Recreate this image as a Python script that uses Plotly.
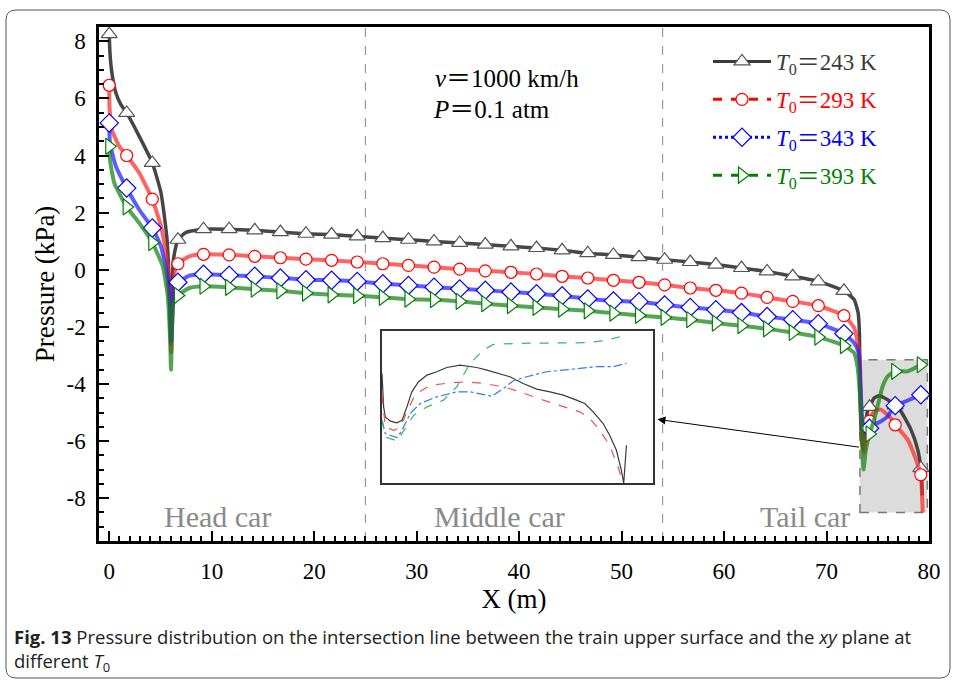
import numpy as np
import plotly.graph_objects as go

# ---------------- data ----------------
# marker positions along X (m)
MK_X = [0, 1.7, 4.2, 6.7, 9.2, 11.7, 14.2, 16.7, 19.2, 21.7, 24.2, 26.7, 29.2, 31.7,
        34.2, 36.7, 39.2, 41.7, 44.2, 46.7, 49.2, 51.7, 54.2, 56.7, 59.2, 61.7, 64.2,
        66.7, 69.2, 71.7, 74.2, 76.7, 79.2]

# T0 = 243 K
X_243 = [0, 0.07, 0.26, 0.65, 1.14, 1.7, 2.93, 4.2, 5.05, 5.61, 5.87, 6.0, 6.26, 6.7, 7.5,
         9.2, 11.7, 14.2, 16.7, 19.2, 21.7, 24.2, 26.7, 29.2, 31.7, 34.2, 36.7, 39.2, 41.7,
         44.2, 46.7, 49.2, 51.7, 54.2, 56.7, 59.2, 61.7, 64.2, 66.7, 69.2, 71.7, 72.7, 73.09,
         73.22, 73.28, 73.4, 73.55, 73.75, 74.0, 74.2, 74.65, 75.14, 75.96, 76.7, 77.26,
         78.24, 78.9, 79.2, 79.35]
P_243 = [8.25, 7.59, 6.89, 6.19, 5.78, 5.49, 4.67, 3.74, 2.69, 1.17, -0.58, -2.6, 0.35, 1.05,
         1.31, 1.42, 1.42, 1.38, 1.32, 1.26, 1.23, 1.17, 1.11, 1.05, 0.99, 0.94, 0.88, 0.82,
         0.76, 0.68, 0.58, 0.52, 0.44, 0.35, 0.27, 0.18, 0.06, -0.06, -0.23, -0.41, -0.74,
         -1.05, -1.52, -2.33, -4.55, -5.8, -6.3, -5.6, -4.95, -4.8, -4.49, -4.41, -4.55,
         -4.75, -4.96, -5.6, -6.3, -6.95, -7.9]

# T0 = 293 K
X_293 = [0, 0.02, 0.26, 0.98, 1.7, 2.93, 4.2, 5.05, 5.61, 5.93, 6.05, 6.36, 6.7, 7.82,
         9.2, 11.7, 14.2, 16.7, 19.2, 21.7, 24.2, 26.7, 29.2, 31.7, 34.2, 36.7, 39.2, 41.7,
         44.2, 46.7, 49.2, 51.7, 54.2, 56.7, 59.2, 61.7, 64.2, 66.7, 69.2, 71.7, 72.7, 73.09,
         73.25, 73.42, 73.67, 74.0, 74.2, 74.65, 75.3, 76.28, 76.7, 77.92, 78.73, 79.2, 79.38]
P_293 = [6.46, 5.72, 4.9, 4.32, 4.0, 3.39, 2.47, 1.52, 0.35, -0.82, -2.9, -0.12, 0.21, 0.47,
         0.54, 0.52, 0.47, 0.42, 0.37, 0.33, 0.27, 0.21, 0.15, 0.09, 0.02, -0.04, -0.09, -0.15,
         -0.23, -0.29, -0.37, -0.44, -0.53, -0.64, -0.72, -0.82, -0.97, -1.11, -1.26, -1.61,
         -2.04, -2.69, -3.15, -5.6, -6.42, -5.5, -5.3, -4.96, -4.9, -5.2, -5.43, -5.95, -6.65,
         -7.18, -8.5]

# T0 = 343 K
X_343 = [0, 0.07, 0.65, 1.7, 2.93, 4.2, 5.05, 5.61, 5.93, 6.06, 6.36, 6.7, 7.82,
         9.2, 11.7, 14.2, 16.7, 19.2, 21.7, 24.2, 26.7, 29.2, 31.7, 34.2, 36.7, 39.2, 41.7,
         44.2, 46.7, 49.2, 51.7, 54.2, 56.7, 59.2, 61.7, 64.2, 66.7, 69.2, 71.7, 72.7, 73.09,
         73.25, 73.51, 73.74, 74.2, 74.65, 75.3, 75.96, 76.28, 76.7, 77.92, 79.2]
P_343 = [5.14, 4.44, 3.62, 2.86, 2.1, 1.46, 0.82, -0.12, -1.28, -2.5, -0.47, -0.44, -0.21,
         -0.16, -0.19, -0.23, -0.29, -0.35, -0.37, -0.41, -0.49, -0.55, -0.61, -0.67, -0.72,
         -0.78, -0.84, -0.91, -1.02, -1.09, -1.12, -1.23, -1.32, -1.40, -1.50, -1.64, -1.75,
         -1.89, -2.24, -2.57, -2.86, -3.6, -5.37, -5.66, -5.55, -5.43, -5.31, -5.14, -4.96,
         -4.76, -4.58, -4.38]

# T0 = 393 K
X_393 = [0, 0.07, 0.49, 1.7, 2.93, 4.2, 5.22, 5.71, 5.93, 6.03, 6.26, 6.7, 7.82,
         9.2, 11.7, 14.2, 16.7, 19.2, 21.7, 24.2, 26.7, 29.2, 31.7, 34.2, 36.7, 39.2, 41.7,
         44.2, 46.7, 49.2, 51.7, 54.2, 56.7, 59.2, 61.7, 64.2, 66.7, 69.2, 71.7, 72.7, 73.02,
         73.18, 73.42, 73.61, 73.84, 74.2, 74.65, 75.14, 75.47, 75.96, 76.7, 77.92, 79.2]
P_393 = [4.32, 3.85, 3.04, 2.2, 1.63, 0.95, 0.12, -0.93, -2.33, -3.5, -1.17, -0.9, -0.64,
         -0.58, -0.62, -0.68, -0.74, -0.82, -0.88, -0.91, -0.97, -1.03, -1.05, -1.11, -1.19,
         -1.26, -1.32, -1.38, -1.44, -1.52, -1.60, -1.67, -1.75, -1.87, -1.96, -2.07, -2.20,
         -2.36, -2.66, -2.92, -3.39, -3.97, -5.37, -7.0, -6.3, -5.75, -5.25, -4.55, -4.09,
         -3.74, -3.56, -3.56, -3.33]

# inset (magnified tail region), inset-local units 0-100
INS_U_243 = [0, 0.6, 1.2, 3.1, 5.5, 7.4, 9.2, 11.0, 13.5, 16.6, 20.2, 23.9, 28.8, 32.5, 35.0,
             38.7, 43.6, 47.2, 52.1, 57.1, 62.0, 66.9, 71.8, 74.8, 77.9, 81.6, 84.0, 86.5,
             88.3, 89.2, 90.2]
INS_V_243 = [72, 50.1, 43.5, 40.7, 39.6, 41.3, 50.1, 60.0, 66.6, 71.0, 73.2, 76.0, 77.6, 76.5,
             76.0, 74.3, 71.6, 69.9, 65.5, 61.8, 60.0, 57.8, 54.5, 52.3, 46.8, 39.1, 31.4,
             21.5, 8.4, 0, 24.8]
INS_U_293 = [0, 1.2, 4.3, 6.7, 9.2, 12.3, 17.8, 25.2, 31.3, 37.4, 44.8, 50.9, 59.5, 66.9,
             73.0, 76.7, 80.4, 84.0, 87.1, 89.0]
INS_V_293 = [57.8, 36.9, 34.7, 36.5, 46.8, 58.5, 64.2, 65.9, 66.6, 65.5, 63.3, 60.0, 54.5,
             50.5, 46.8, 42.4, 34.7, 24.8, 10.5, 0]
INS_U_343 = [0, 1.2, 5.5, 7.4, 10.4, 14.1, 20.2, 27.6, 32.5, 38.7, 40.5, 44.8, 48.5, 53.4,
             60.7, 69.3, 79.1, 85.3, 90.2]
INS_V_343 = [41.3, 32.5, 29.9, 34.7, 45.7, 52.3, 56.7, 60.0, 60.0, 57.8, 57.1, 62.2, 67.3,
             69.9, 73.2, 74.7, 76.5, 76.5, 78.7]
INS_U_393 = [0, 1.2, 5.5, 8.0, 11.7, 16.6, 22.7, 27.6, 32.5, 37.4, 41.1, 50.9, 63.2, 75.5,
             81.6, 89.0, 90.2]
INS_V_393 = [41.3, 30.3, 27.7, 34.7, 44.6, 50.1, 54.5, 63.3, 78.7, 87.5, 91.2, 91.9, 92.3,
             92.3, 93.6, 96.7, 95.2]

LABELS = ["243", "293", "343", "393"]
CAR_LABELS = ["Head car", "Middle car", "Tail car"]
CAR_X = [10.6, 38.1, 67.9]
CAR_BOUNDS = [25, 54]
Y_TICKS = [-8, -6, -4, -2, 0, 2, 4, 6, 8]
X_TICKS = [0, 10, 20, 30, 40, 50, 60, 70, 80]

# ---------------- styling ----------------
SERIES = [
    (X_243, P_243, INS_U_243, INS_V_243, "#3a3a3a", "rgba(50,50,50,0.9)", "#555555",
     "triangle-up", "solid", "solid", "#3a3a3a", 14),
    (X_293, P_293, INS_U_293, INS_V_293, "red", "rgba(255,40,40,0.72)", "#ff0000",
     "circle", "dash", "dash", "#f05050", 12),
    (X_343, P_343, INS_U_343, INS_V_343, "blue", "rgba(30,30,255,0.72)", "#0000ff",
     "diamond", "dot", "dashdot", "#2f7fe0", 14),
    (X_393, P_393, INS_U_393, INS_V_393, "green", "rgba(20,130,20,0.72)", "#008000",
     "triangle-right", "dash", "dash", "#3cb371", 14),
]

SERIF = "Liberation Serif, Times New Roman, Noto Sans CJK SC, serif"

fig = go.Figure()

for i, (xs, ys, iu, iv, tcol, lcol, mcol, sym, ldash, idash, icol, msz) in enumerate(SERIES):
    xs = np.array(xs)
    ys = np.array(ys)
    fig.add_trace(go.Scatter(x=xs, y=ys, mode="lines", showlegend=False,
                             line=dict(color=lcol, width=4 if i else 3.5, shape="spline",
                                       smoothing=0.5), hoverinfo="skip"))
    mask = np.array([np.any(np.isclose(v, MK_X)) for v in xs])
    fig.add_trace(go.Scatter(x=xs[mask], y=ys[mask], mode="markers", showlegend=False,
                             marker=dict(symbol=sym, size=msz, color="white",
                                         line=dict(color=mcol, width=1.2))))
    # inset
    fig.add_trace(go.Scatter(x=iu, y=iv, mode="lines", showlegend=False, xaxis="x2",
                             yaxis="y2", line=dict(color=icol, width=1.2, dash=idash)))
    # legend entry
    name = (f"<span style='color:{tcol}'><i>T</i><sub>0</sub>\uff1d{LABELS[i]} K</span>")
    fig.add_trace(go.Scatter(x=[None], y=[None], mode="lines+markers", name=name,
                             legendgroup=f"g{i}",
                             line=dict(color=tcol, width=3, dash=ldash),
                             marker=dict(symbol=sym, size=msz, color="white",
                                         line=dict(color=mcol, width=1.2))))

# plot box geometry in pixels -> paper helpers
L, R, T, B = 99, 929, 27, 541
def px(x):
    return (x - L) / (R - L)
def py(y):
    return (B - y) / (B - T)

shapes = []
# grey tail box
shapes.append(dict(type="rect", xref="x", yref="y", x0=73.26, x1=79.84, y0=-8.5, y1=-3.15,
                   fillcolor="#dcdcdc", line=dict(color="#777777", width=1.5, dash="dash"),
                   layer="below"))
for xb in CAR_BOUNDS:
    shapes.append(dict(type="line", xref="x", yref="paper", x0=xb, x1=xb, y0=0, y1=1,
                       line=dict(color="#9a9a9a", width=1.2, dash="dash"), layer="below"))
# outer rounded frame
x0, x1, y0, y1 = px(6), px(950), py(678), py(10)
rx, ry = 10 / (R - L), 10 / (B - T)
path = (f"M{x0+rx},{y1} L{x1-rx},{y1} Q{x1},{y1} {x1},{y1-ry} L{x1},{y0+ry} "
        f"Q{x1},{y0} {x1-rx},{y0} L{x0+rx},{y0} Q{x0},{y0} {x0},{y0+ry} "
        f"L{x0},{y1-ry} Q{x0},{y1} {x0+rx},{y1} Z")
shapes.append(dict(type="path", xref="paper", yref="paper", path=path,
                   line=dict(color="#555555", width=1)))

annotations = []
for lab, xc in zip(CAR_LABELS, CAR_X):
    annotations.append(dict(x=xc, y=-8.64, xref="x", yref="y", text=lab, showarrow=False,
                            font=dict(family=SERIF, size=30, color="#8a8a8a")))
annotations.append(dict(x=31.6, y=6.71, xref="x", yref="y", xanchor="left",
                        text="<i>v</i>\uff1d1000 km/h", showarrow=False,
                        font=dict(family=SERIF, size=25, color="black")))
annotations.append(dict(x=31.4, y=5.62, xref="x", yref="y", xanchor="left",
                        text="<i>P</i>\uff1d0.1 atm", showarrow=False,
                        font=dict(family=SERIF, size=25, color="black")))
annotations.append(dict(x=53.5, y=-5.24, xref="x", yref="y", ax=73.3, ay=-6.22,
                        axref="x", ayref="y", text="", showarrow=True, arrowhead=2,
                        arrowsize=1.6, arrowwidth=1, arrowcolor="black"))
annotations.append(dict(x=px(12), y=py(622), xref="paper", yref="paper", xanchor="left",
                        yanchor="top", align="left", showarrow=False,
                        text=("<b>Fig. 13</b> Pressure distribution on the intersection line "
                              "between the train upper surface and the <i>xy</i> plane at<br>"
                              "different <i>T</i><sub>0</sub>"),
                        font=dict(family="Open Sans, Noto Sans, sans-serif", size=18.5,
                                  color="#222222")))

axis_common = dict(showline=True, linewidth=2.5, linecolor="black", mirror=True,
                   ticks="inside", ticklen=10, tickwidth=2, tickcolor="black",
                   showgrid=False, zeroline=False,
                   tickfont=dict(family=SERIF, size=23, color="black"))

fig.update_layout(
    width=956, height=682,
    margin=dict(l=L, r=956 - R, t=T, b=682 - B),
    paper_bgcolor="white", plot_bgcolor="white",
    xaxis=dict(range=[-1, 80], tickvals=X_TICKS, ticktext=[str(v) for v in X_TICKS],
               minor=dict(dtick=1, ticks="inside", ticklen=5, tickwidth=1.5,
                          tickcolor="black"),
               title=dict(text="X (m)", font=dict(family=SERIF, size=27, color="black"),
                          standoff=5),
               ticklabelstandoff=8, **axis_common),
    yaxis=dict(range=[-9.5, 8.5], tickvals=Y_TICKS, ticktext=[str(v) for v in Y_TICKS],
               minor=dict(dtick=0.5, ticks="inside", ticklen=5, tickwidth=1.5,
                          tickcolor="black"),
               title=dict(text="Pressure (kPa)", font=dict(family=SERIF, size=27,
                                                            color="black"), standoff=5),
               ticklabelstandoff=6, **axis_common),
    xaxis2=dict(domain=[px(382), px(653)], anchor="y2", range=[0, 100], showline=True,
                linecolor="#333333", linewidth=1.5, mirror=True, showticklabels=False,
                ticks="", showgrid=False, zeroline=False),
    yaxis2=dict(domain=[py(483), py(331)], anchor="x2", range=[0, 100], showline=True,
                linecolor="#333333", linewidth=1.5, mirror=True, showticklabels=False,
                ticks="", showgrid=False, zeroline=False),
    legend=dict(x=px(708), y=py(40), xanchor="left", yanchor="top",
                bgcolor="rgba(0,0,0,0)", borderwidth=0, tracegroupgap=5,
                font=dict(family=SERIF, size=23), itemwidth=58),
    shapes=shapes, annotations=annotations,
)

fig.write_html("out.html")
